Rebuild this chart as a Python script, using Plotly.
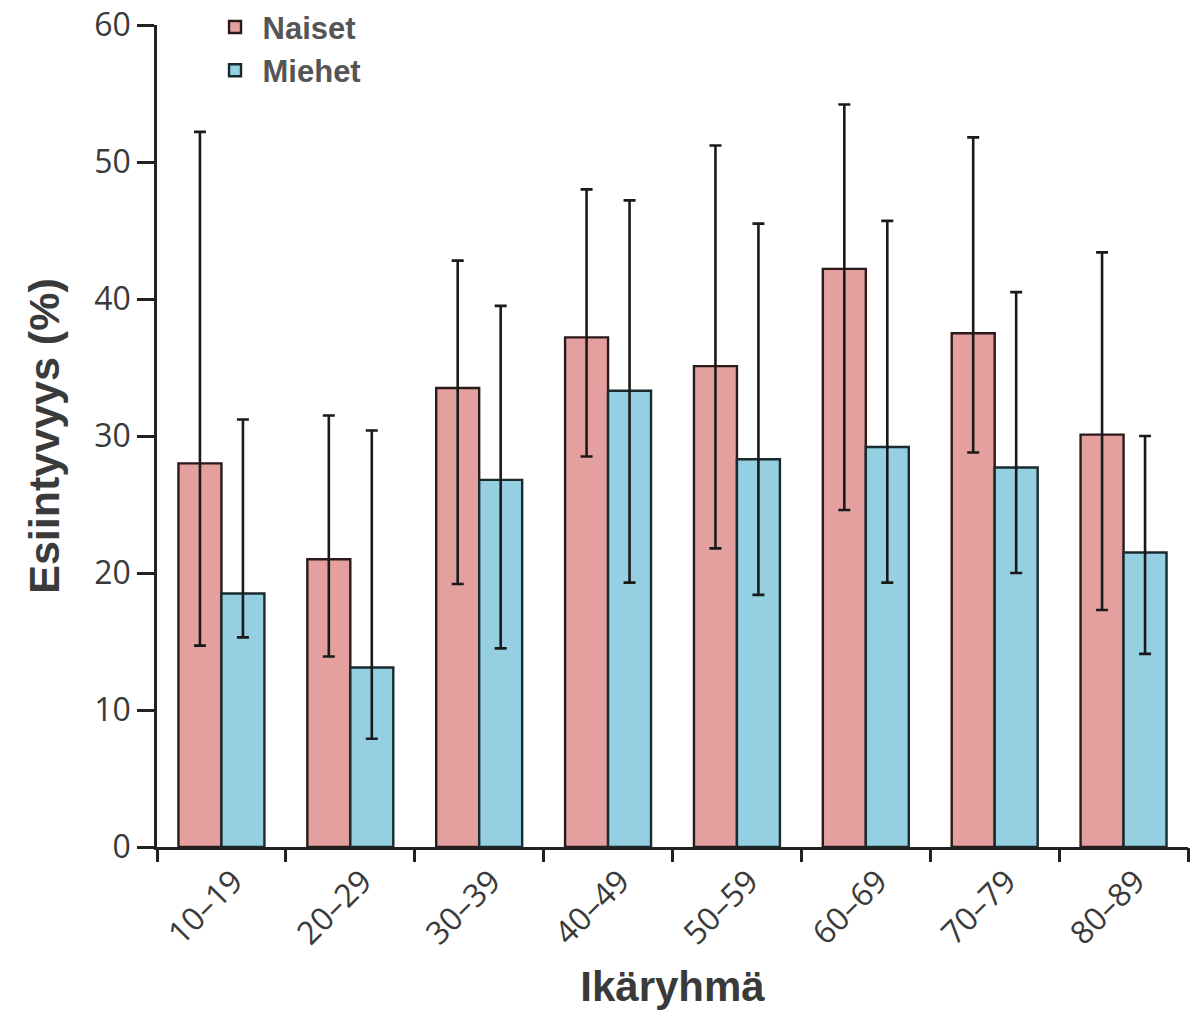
import plotly.graph_objects as go

age_groups = ["10–19", "20–29", "30–39", "40–49", "50–59", "60–69", "70–79", "80–89"]
naiset = [28.0, 21.0, 33.5, 37.2, 35.1, 42.2, 37.5, 30.1]
naiset_low = [14.7, 13.9, 19.2, 28.5, 21.8, 24.6, 28.8, 17.3]
naiset_high = [52.2, 31.5, 42.8, 48.0, 51.2, 54.2, 51.8, 43.4]
miehet = [18.5, 13.1, 26.8, 33.3, 28.3, 29.2, 27.7, 21.5]
miehet_low = [15.3, 7.9, 14.5, 19.3, 18.4, 19.3, 20.0, 14.1]
miehet_high = [31.2, 30.4, 39.5, 47.2, 45.5, 45.7, 40.5, 30.0]
y_ticks = [0, 10, 20, 30, 40, 50, 60]

xpos = list(range(len(age_groups)))
bounds = [i - 0.5 for i in range(len(age_groups) + 1)]

def err(vals, lo, hi):
    return dict(
        type="data", symmetric=False,
        array=[h - v for v, h in zip(vals, hi)],
        arrayminus=[v - l for v, l in zip(vals, lo)],
        color="#1a1a1a", thickness=2.6, width=6,
    )

fig = go.Figure()
fig.add_trace(go.Bar(
    x=xpos, y=naiset, name="Naiset",
    marker=dict(color="#E3A09E", line=dict(color="#2a1a1a", width=2.4)),
    error_y=err(naiset, naiset_low, naiset_high),
))
fig.add_trace(go.Bar(
    x=xpos, y=miehet, name="Miehet",
    marker=dict(color="#94D0E2", line=dict(color="#1a2a2e", width=2.4)),
    error_y=err(miehet, miehet_low, miehet_high),
))
# invisible trace on a second x axis to carry boundary tick marks
fig.add_trace(go.Scatter(x=bounds, y=[0] * len(bounds), xaxis="x2", mode="markers",
                         marker=dict(opacity=0), showlegend=False, hoverinfo="skip"))

fig.update_layout(
    width=1191, height=1014,
    paper_bgcolor="white", plot_bgcolor="white",
    barmode="group", bargap=0.333, bargroupgap=0,
    margin=dict(l=157, r=3, t=25, b=167, autoexpand=False),
    font=dict(family="Open Sans", color="#3a3a3a"),
    showlegend=True,
    legend=dict(
        x=0.049, y=1.03, xanchor="left", yanchor="top",
        font=dict(family="Liberation Sans", size=31, color="#555555", weight="bold"),
        bgcolor="rgba(0,0,0,0)", itemwidth=45, tracegroupgap=0,
    ),
    xaxis=dict(
        range=[-0.5, len(age_groups) - 0.5],
        tickvals=xpos, ticktext=age_groups, tickangle=-45,
        ticks="", showgrid=False, zeroline=False,
        showline=True, linecolor="#222222", linewidth=2.5,
        tickfont=dict(family="Open Sans", size=32, color="#3a3a3a"),
        ticklabelshift=12, ticklabeloverflow="allow",
        title=dict(text="Ikäryhmä", font=dict(family="Liberation Sans", size=42, color="#3a3a3a", weight="bold"),
                   standoff=20),
    ),
    xaxis2=dict(
        overlaying="x", side="bottom",
        range=[-0.5, len(age_groups) - 0.5],
        tickvals=bounds, showticklabels=False,
        ticks="outside", ticklen=14, tickwidth=2.5, tickcolor="#222222",
        showgrid=False, zeroline=False, showline=False,
    ),
    yaxis=dict(
        range=[0, 60], tickvals=y_ticks,
        ticks="outside", ticklen=17, tickwidth=2.5, tickcolor="#222222",
        showgrid=False, zeroline=False,
        showline=True, linecolor="#222222", linewidth=2.5,
        tickfont=dict(family="Open Sans", size=32, color="#3a3a3a"),
        ticklabeloverflow="allow",
        title=dict(text="Esiintyvyys (%)", font=dict(family="Liberation Sans", size=43, color="#3a3a3a", weight="bold"),
                   standoff=22),
    ),
)

fig.write_html(
    "out.html",
    config={"displayModeBar": False},
    post_script="document.body.style.margin='0';document.body.style.overflow='hidden';",
)
